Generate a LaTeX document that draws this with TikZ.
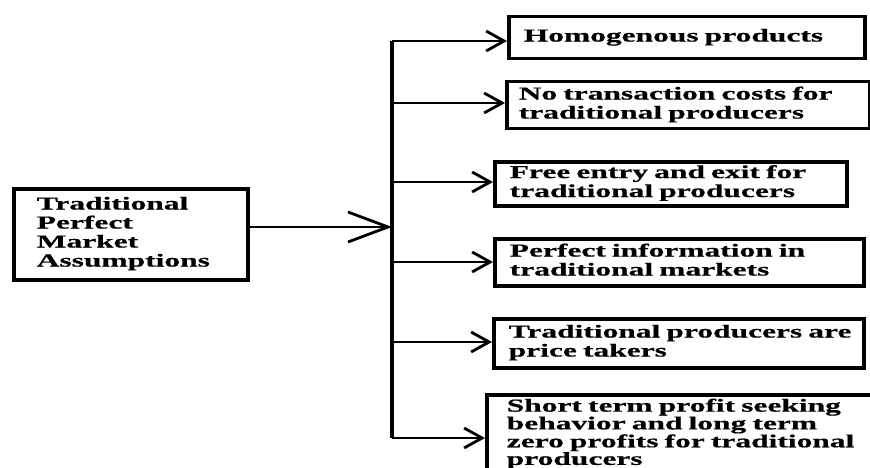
\documentclass[tikz,border=0pt]{standalone}
\usepackage{fontspec}
\newfontfamily\tnr{Liberation Serif}[FakeStretch=1.72, BoldFeatures={FakeBold=0.6}]
\usetikzlibrary{arrows.meta}
\newcommand\txtlines[1]{\begin{tabular}{@{}l@{}}#1\end{tabular}}
\begin{document}
\begin{tikzpicture}[x=1pt,y=-1pt,
  box/.style={draw, line width=3.5pt, anchor=north west, align=left, inner ysep=0pt,
    font={\tnr\bfseries\fontsize{18.3}{19}\selectfont}},
  arr/.style={line width=2.8pt, -{Straight Barb[length=18pt,width=20pt]}},
  mainarr/.style={line width=2.8pt, -{Straight Barb[length=40pt,width=30pt]}}]
\useasboundingbox (0,0) rectangle (870,468);
\fill[white] (0,0) rectangle (870,468);
\clip (0,0) rectangle (870,468);

\node[box, inner xsep=23pt, text width=188pt, minimum height=91pt] (b0) at (12,187)
  {\txtlines{Traditional\\Perfect\\Market\\Assumptions}};
\node[box, inner xsep=15pt, text width=326pt, minimum height=42pt] (b1) at (507,15)
  {\txtlines{Homogenous products}};
\node[box, inner xsep=12pt, text width=339pt, minimum height=47pt] (b2) at (505,80)
  {\txtlines{No transaction costs for\\traditional producers}};
\node[box, inner xsep=15pt, text width=322pt, minimum height=44pt] (b3) at (493,160)
  {\txtlines{Free entry and exit for\\traditional producers}};
\node[box, inner xsep=15pt, text width=339pt, minimum height=47pt] (b4) at (493,237)
  {\txtlines{Perfect information in\\traditional markets}};
\node[box, inner xsep=15pt, text width=340pt, minimum height=49pt] (b5) at (492,317)
  {\txtlines{Traditional producers are\\price takers}};
\node[box, inner xsep=20pt, text width=372pt, minimum height=78pt,
  font={\tnr\bfseries\fontsize{18.3}{16.5}\selectfont}] (b6) at (485,393)
  {Short term profit seeking\\behavior and long term\\zero profits for traditional\\producers};

\coordinate (j1) at (392,41);
\coordinate (j2) at (392,103);
\coordinate (j3) at (392,182);
\coordinate (jm) at (392,227);
\coordinate (j4) at (392,262);
\coordinate (j5) at (392,342);
\coordinate (j6) at (392,438);

\draw[line width=4.5pt] (j1) -- (j6);
\draw[mainarr] (jm -| b0.east) -- (jm);
\draw[arr] (j1) -- (j1 -| b1.west);
\draw[arr] (j2) -- (j2 -| b2.west);
\draw[arr] (j3) -- (j3 -| b3.west);
\draw[arr] (j4) -- (j4 -| b4.west);
\draw[arr] (j5) -- (j5 -| b5.west);
\draw[arr] (j6) -- (j6 -| b6.west);
\end{tikzpicture}
\end{document}
